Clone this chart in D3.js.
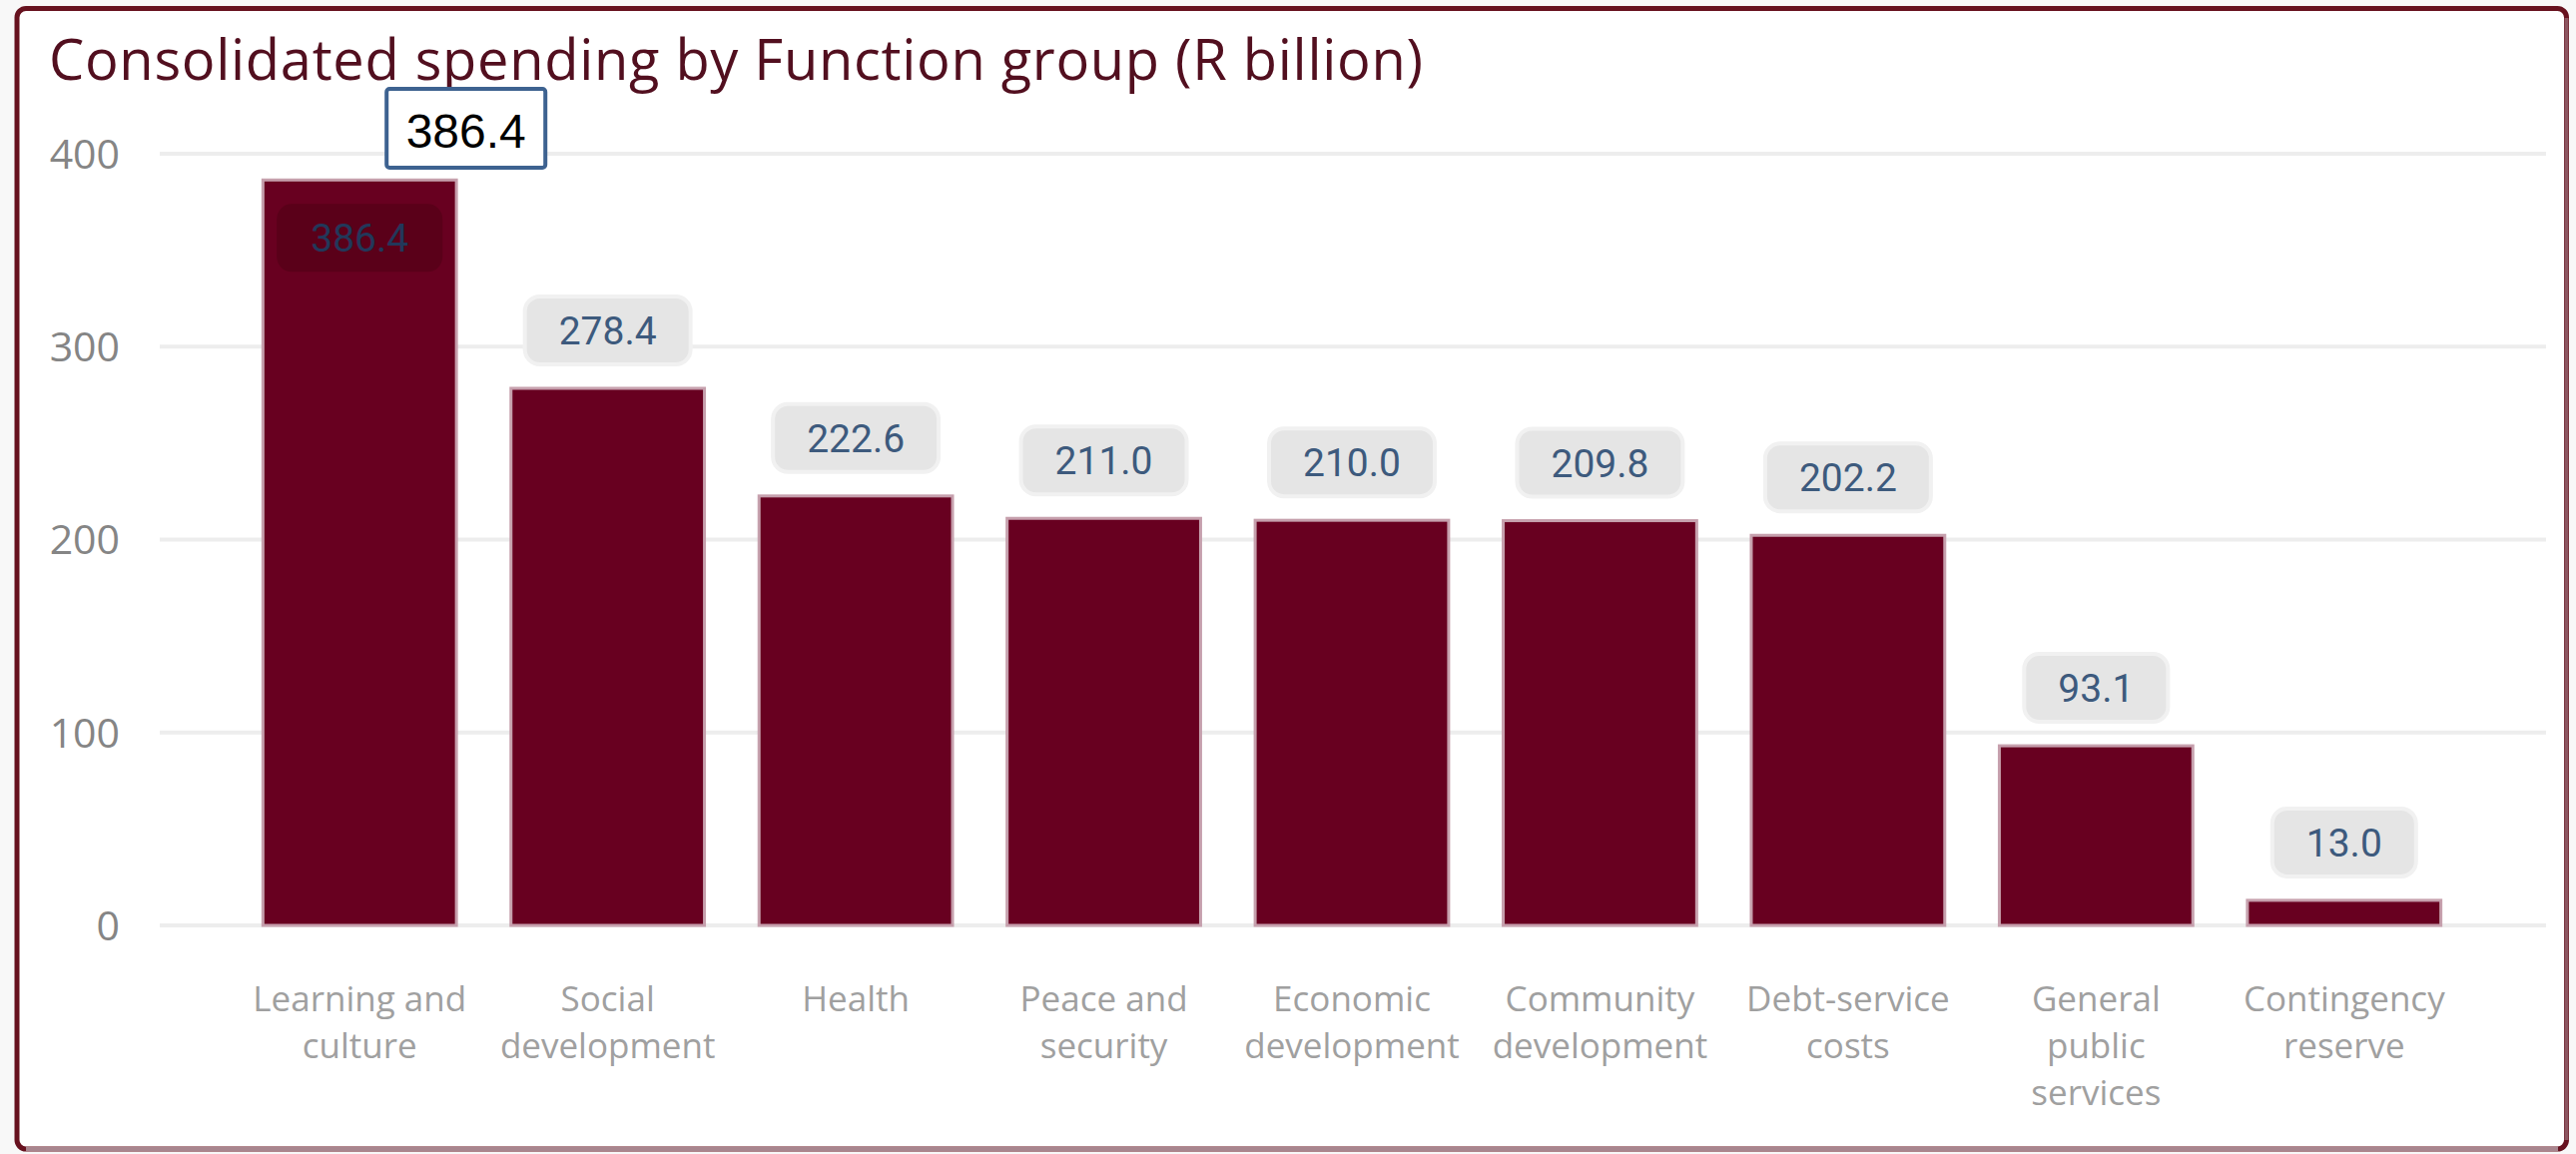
<!DOCTYPE html>
<html>
<head>
<meta charset="utf-8">
<script src="https://cdn.jsdelivr.net/npm/d3@7"></script>
<style>
  html, body { margin: 0; padding: 0; background: #f8f8f8; }
  svg { display: block; }
</style>
</head>
<body>
<script>
// Consolidated spending by function group, R billion
const title = "Consolidated spending by Function group (R billion)";
const categories = [
  "Learning and culture",
  "Social development",
  "Health",
  "Peace and security",
  "Economic development",
  "Community development",
  "Debt-service costs",
  "General public services",
  "Contingency reserve"
];
const values = [386.4, 278.4, 222.6, 211.0, 210.0, 209.8, 202.2, 93.1, 13.0];
const yTicks = [0, 100, 200, 300, 400];
const calloutIndex = 0;   // bar whose value is repeated in the boxed callout

const W = 2580, H = 1156;
const svg = d3.select("body").append("svg").attr("width", W).attr("height", H);

// card frame
svg.append("rect")
  .attr("x", 17).attr("y", 8.5).attr("width", 2553.5).attr("height", 1142.5)
  .attr("rx", 9).attr("fill", "#ffffff")
  .attr("stroke", "#67121f").attr("stroke-width", 5);
svg.append("line").attr("x1", 2570.5).attr("x2", 2570.5).attr("y1", 18).attr("y2", 1142)
  .attr("stroke", "#8c5660").attr("stroke-width", 4);
svg.append("line").attr("x1", 26).attr("x2", 2562).attr("y1", 1151).attr("y2", 1151)
  .attr("stroke", "#a8868f").attr("stroke-width", 4);

// title
svg.append("text")
  .attr("x", 49).attr("y", 80)
  .attr("font-family", "'Open Sans', sans-serif")
  .attr("font-size", 56)
  .attr("letter-spacing", 0.7)
  .attr("fill", "#520f1f")
  .text(title);

// scales
const x = d3.scaleBand()
  .domain(categories)
  .range([236, 2472])
  .paddingInner(0.22)
  .paddingOuter(0.11);

const y = d3.scaleLinear().domain([0, 400]).range([927, 154]);

// gridlines
svg.append("g").selectAll("line")
  .data(yTicks)
  .join("line")
  .attr("x1", 160).attr("x2", 2550)
  .attr("y1", d => y(d)).attr("y2", d => y(d))
  .attr("stroke", "#ededed").attr("stroke-width", 4);

// y axis labels
const yAxis = d3.axisLeft(y).tickValues(yTicks).tickSize(0).tickPadding(0);
const gy = svg.append("g").attr("transform", "translate(120,0)").call(yAxis);
gy.select(".domain").remove();
gy.selectAll("text")
  .attr("font-family", "'Open Sans', sans-serif")
  .attr("font-size", 41)
  .attr("fill", "#858585")
  .attr("dy", "0.35em");

// bars
svg.append("g").selectAll("rect")
  .data(values)
  .join("rect")
  .attr("x", (d, i) => x(categories[i]))
  .attr("width", x.bandwidth())
  .attr("y", d => y(d))
  .attr("height", d => y(0) - y(d))
  .attr("fill", "#680020")
  .attr("stroke", "#c6a0ad")
  .attr("stroke-width", 3);

// x axis labels, wrapped to fit under each bar
const xAxis = d3.axisBottom(x).tickSize(0).tickPadding(0);
const gx = svg.append("g").attr("transform", "translate(0,1013)").call(xAxis);
gx.select(".domain").remove();
const wrapWidth = 228, lineH = 47;
gx.selectAll("text")
  .attr("font-family", "'Open Sans', sans-serif")
  .attr("font-size", 35)
  .attr("fill", "#a0a0a0")
  .attr("dy", 0)
  .attr("y", 0)
  .each(function (d) {
    const t = d3.select(this);
    const words = d.split(" ");
    t.text(null);
    let line = [];
    let tspan = t.append("tspan").attr("x", 0).attr("dy", 0);
    words.forEach(w => {
      line.push(w);
      tspan.text(line.join(" "));
      if (tspan.node().getComputedTextLength() > wrapWidth && line.length > 1) {
        line.pop();
        tspan.text(line.join(" "));
        line = [w];
        tspan = t.append("tspan").attr("x", 0).attr("dy", lineH).text(w);
      }
    });
  });

// value labels: pill above each bar, or inside the bar when there is no room above
const labelFont = "Roboto, sans-serif";
const labelSize = 39;
const pillPadX = 34, pillH = 68, pillOffset = 58;
const labels = svg.append("g").selectAll("g")
  .data(values)
  .join("g")
  .attr("transform", (d, i) => {
    const cx = x(categories[i]) + x.bandwidth() / 2;
    const above = y(d) - pillOffset - pillH / 2 >= y(400);
    const cy = above ? y(d) - pillOffset : y(d) + pillOffset;
    return `translate(${cx},${cy})`;
  });

labels.each(function (d) {
  const g = d3.select(this);
  const inside = y(d) - pillOffset - pillH / 2 < y(400);
  const rect = g.append("rect");
  const txt = g.append("text")
    .attr("text-anchor", "middle")
    .attr("dy", "0.36em")
    .attr("font-family", labelFont)
    .attr("font-size", labelSize)
    .attr("fill", inside ? "#22385a" : "#3d5a7d")
    .text(d3.format(".1f")(d));
  const w = txt.node().getComputedTextLength() + pillPadX * 2;
  rect.attr("x", -w / 2).attr("y", -pillH / 2)
    .attr("width", w).attr("height", pillH)
    .attr("rx", 15)
    .attr("fill", inside ? "#5a0019" : "#e5e5e5")
    .attr("stroke", inside ? "none" : "#f1f1f1")
    .attr("stroke-width", 4);
});

// boxed callout repeating the first bar's value
const calloutValue = values[calloutIndex];
const calloutCx = x(categories[calloutIndex]) + x.bandwidth() / 2 + 106.5;
const callout = svg.append("g").attr("transform", `translate(${calloutCx},0)`);
callout.append("rect")
  .attr("x", -79.5).attr("y", 89)
  .attr("width", 159).attr("height", 79)
  .attr("rx", 3)
  .attr("fill", "#ffffff")
  .attr("stroke", "#3d6290").attr("stroke-width", 4);
callout.append("text")
  .attr("x", 0).attr("y", 148)
  .attr("text-anchor", "middle")
  .attr("font-family", "'Liberation Sans', Arial, sans-serif")
  .attr("font-size", 48)
  .attr("fill", "#000000")
  .text(d3.format(".1f")(calloutValue));
</script>
</body>
</html>
